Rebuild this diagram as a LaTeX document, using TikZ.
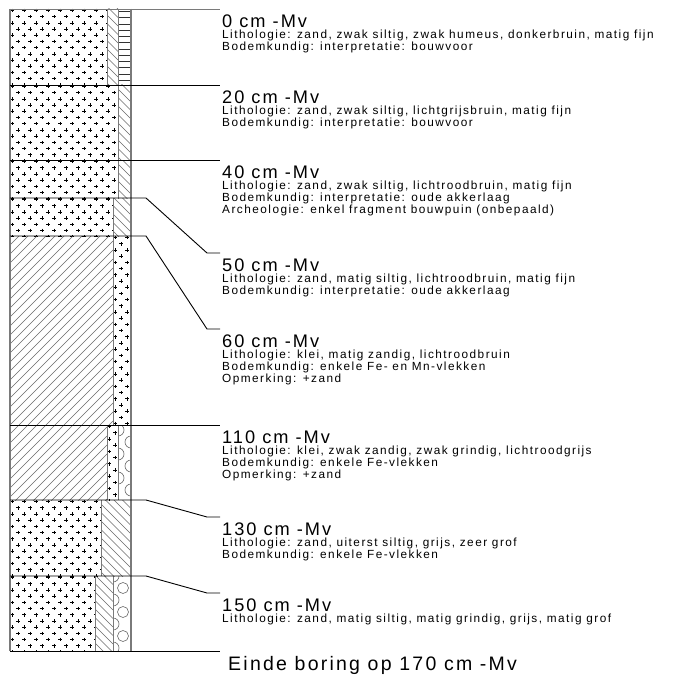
\documentclass[tikz,border=0pt]{standalone}
\usepackage{fontspec}
\setmainfont{Liberation Sans}
\newfontfamily\hdrf[LetterSpace=11]{Liberation Sans}
\newfontfamily\smf[LetterSpace=12.5]{Liberation Sans}
\newfontfamily\endf[LetterSpace=11.5]{Liberation Sans}
\definecolor{edgegray}{HTML}{7A7A7A}
\definecolor{hatchgray}{HTML}{6A6A6A}
\tikzset{
  sandmark/.style={line width=0.6bp,black},
  hatchline/.style={line width=0.55bp,hatchgray},
  strata/.style={line width=0.9bp,black},
  divider/.style={line width=0.9bp,edgegray},
  outer/.style={line width=1.4bp,edgegray},
  pebble/.style={line width=0.6bp,hatchgray},
  hdr/.style={anchor=base west,inner sep=0pt,font=\hdrf\fontsize{18.2bp}{20bp}\selectfont},
  sm/.style={anchor=base west,inner sep=0pt,font=\smf\fontsize{11.8bp}{12bp}\selectfont},
  endtxt/.style={anchor=base west,inner sep=0pt,font=\endf\fontsize{19.5bp}{21bp}\selectfont},
}
\newcommand\sandfill[4]{%
  \begin{scope}
  \clip (#1,#2) rectangle (#3,#4);
  \pgfmathtruncatemacro\nrows{(#4-#2)/6.2+1}
  \pgfmathtruncatemacro\ncols{(#3-#1)/12+1}
  \foreach \i in {0,...,\nrows}{
    \pgfmathsetmacro\yy{#2+1.5+6.2*\i}
    \pgfmathsetmacro\xo{#1+2+6*mod(\i,2)}
    \foreach \j in {-1,...,\ncols}{
      \draw[sandmark] (\xo+12*\j-1.8,\yy) -- ++(3.6,0) (\xo+12*\j,\yy-1.8) -- ++(0,3.6);
    }
  }
  \end{scope}}
\newcommand\siltfill[4]{%
  \begin{scope}
  \clip (#1,#2) rectangle (#3,#4);
  \pgfmathsetmacro\ww{#3-#1}
  \pgfmathtruncatemacro\nk{(#4-#2+\ww)/8.5+1}
  \foreach \k in {0,...,\nk}{
    \draw[hatchline] (#1,#2-\ww+8.5*\k) -- ++(\ww,\ww);
  }
  \end{scope}}
\newcommand\clayfill[4]{%
  \begin{scope}
  \clip (#1,#2) rectangle (#3,#4);
  \pgfmathsetmacro\ww{#3-#1}
  \pgfmathtruncatemacro\nk{(#4-#2+\ww)/9+1}
  \foreach \k in {0,...,\nk}{
    \draw[hatchline] (#1,#2+9*\k) -- ++(\ww,-\ww);
  }
  \end{scope}}
\newcommand\humusfill[4]{%
  \begin{scope}
  \clip (#1,#2) rectangle (#3,#4);
  \foreach \k in {0,...,12}{
    \draw[line width=0.6bp,black!80] (#1,#2+2.5+6.25*\k) -- (#3,#2+2.5+6.25*\k);
  }
  \end{scope}}
\begin{document}
\begin{tikzpicture}[x=1bp,y=-1bp]
\useasboundingbox (0,0) rectangle (690,677);
\fill[white] (0,0) rectangle (690,677);
% ---------- fills ----------
% 0-20
\sandfill{10}{9}{107}{85}
\siltfill{107}{9}{118}{85}
\humusfill{118}{9}{131}{85}
% 20-40
\sandfill{10}{85}{118}{160}
\siltfill{118}{85}{131}{160}
% 40-50
\sandfill{10}{160}{118}{198}
\siltfill{118}{160}{131}{198}
% 50-60
\sandfill{10}{198}{113}{236}
\siltfill{113}{198}{131}{236}
% 60-110
\clayfill{10}{236}{113}{425}
\sandfill{113}{236}{131}{425}
% 110-130
\clayfill{10}{425}{107}{500}
\sandfill{107}{425}{118}{500}
\begin{scope}
\clip (118,425) rectangle (131,500);
\foreach \cy in {430,454,478} {\draw[pebble] (118,\cy) circle (6);}
\foreach \cy in {442,466,490} {\draw[pebble] (131,\cy) circle (6);}
\end{scope}
% 130-150
\sandfill{10}{500}{101}{576}
\siltfill{101}{500}{131}{576}
% 150-170
\sandfill{10}{576}{95}{651}
\siltfill{95}{576}{113}{651}
\begin{scope}
\clip (113,576) rectangle (131,651);
\foreach \cy in {576,600,624,648} {\draw[pebble] (113,\cy) circle (6);}
\foreach \cy in {588,612,636} {\draw[pebble] (123,\cy) circle (5.5);}
\end{scope}
% ---------- sub-column dividers ----------
\draw[divider] (107,9) -- (107,85) (118,9) -- (118,85);
\draw[divider] (118,85) -- (118,198);
\draw[divider] (113,198) -- (113,425);
\draw[divider] (107,425) -- (107,500) (118,425) -- (118,500);
\draw[divider] (101,500) -- (101,576);
\draw[divider] (95,576) -- (95,651) (113,576) -- (113,651);
% ---------- outer edges ----------
\draw[outer] (10,9) -- (10,651);
\draw[outer] (131,9) -- (131,651);
% ---------- boundary coordinates ----------
\coordinate (b0) at (10,9);     \coordinate (e0) at (220,9);
\coordinate (b20) at (10,85);   \coordinate (e20) at (220,85);
\coordinate (b40) at (10,160);  \coordinate (e40) at (220,160);
\coordinate (b50) at (10,198);  \coordinate (k50a) at (146,198); \coordinate (k50b) at (207,253); \coordinate (e50) at (220,253);
\coordinate (b60) at (10,236);  \coordinate (k60a) at (146,236); \coordinate (k60b) at (207,329); \coordinate (e60) at (220,329);
\coordinate (b110) at (10,425); \coordinate (e110) at (220,425);
\coordinate (b130) at (10,500); \coordinate (k130a) at (146,500); \coordinate (k130b) at (207,517); \coordinate (e130) at (220,517);
\coordinate (b150) at (10,576); \coordinate (k150a) at (146,576); \coordinate (k150b) at (207,593); \coordinate (e150) at (220,593);
\coordinate (b170) at (10,651); \coordinate (e170) at (220,651);
% ---------- strata lines and leaders ----------
\draw[line width=0.9bp,edgegray] (b0) -- (e0);
\draw[strata] (b20) -- (e20);
\draw[strata] (b40) -- (e40);
\draw[strata] (b50) -- (k50a) -- (k50b) -- (e50);
\draw[strata] (b60) -- (k60a) -- (k60b) -- (e60);
\draw[strata] (b110) -- (e110);
\draw[strata] (b130) -- (k130a) -- (k130b) -- (e130);
\draw[strata] (b150) -- (k150a) -- (k150b) -- (e150);
\draw[strata] (b170) -- (e170);
% ---------- labels ----------
\node[hdr] (h0) at (222,27.5) {0 cm -Mv};
\node[sm] (h0a) at (222,38.8) {Lithologie: zand, zwak siltig, zwak humeus, donkerbruin, matig fijn};
\node[sm] (h0b) at (222,50.5) {Bodemkundig: interpretatie: bouwvoor};

\node[hdr] (h20) at (222,103.5) {20 cm -Mv};
\node[sm] (h20a) at (222,114.8) {Lithologie: zand, zwak siltig, lichtgrijsbruin, matig fijn};
\node[sm] (h20b) at (222,126.5) {Bodemkundig: interpretatie: bouwvoor};

\node[hdr] (h40) at (222,178.5) {40 cm -Mv};
\node[sm] (h40a) at (222,189.8) {Lithologie: zand, zwak siltig, lichtroodbruin, matig fijn};
\node[sm] (h40b) at (222,201.5) {Bodemkundig: interpretatie: oude akkerlaag};
\node[sm] (h40c) at (222,213.2) {Archeologie: enkel fragment bouwpuin (onbepaald)};

\node[hdr] (h50) at (222,271.5) {50 cm -Mv};
\node[sm] (h50a) at (222,282.8) {Lithologie: zand, matig siltig, lichtroodbruin, matig fijn};
\node[sm] (h50b) at (222,294.5) {Bodemkundig: interpretatie: oude akkerlaag};

\node[hdr] (h60) at (222,347.5) {60 cm -Mv};
\node[sm] (h60a) at (222,358.8) {Lithologie: klei, matig zandig, lichtroodbruin};
\node[sm] (h60b) at (222,370.5) {Bodemkundig: enkele Fe- en Mn-vlekken};
\node[sm] (h60c) at (222,382.2) {Opmerking: +zand};

\node[hdr] (h110) at (222,443.5) {110 cm -Mv};
\node[sm] (h110a) at (222,454.8) {Lithologie: klei, zwak zandig, zwak grindig, lichtroodgrijs};
\node[sm] (h110b) at (222,466.5) {Bodemkundig: enkele Fe-vlekken};
\node[sm] (h110c) at (222,478.2) {Opmerking: +zand};

\node[hdr] (h130) at (222,535.5) {130 cm -Mv};
\node[sm] (h130a) at (222,546.8) {Lithologie: zand, uiterst siltig, grijs, zeer grof};
\node[sm] (h130b) at (222,558.5) {Bodemkundig: enkele Fe-vlekken};

\node[hdr] (h150) at (222,611.5) {150 cm -Mv};
\node[sm] (h150a) at (222,622.8) {Lithologie: zand, matig siltig, matig grindig, grijs, matig grof};

\node[endtxt] (h170) at (228,670) {Einde boring op 170 cm -Mv};
\end{tikzpicture}
\end{document}
